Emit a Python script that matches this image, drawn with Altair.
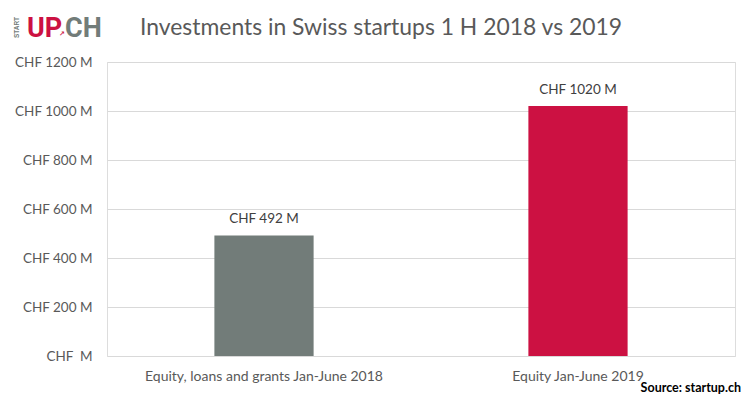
import altair as alt
import pandas as pd

categories = ["Equity, loans and grants Jan-June 2018", "Equity Jan-June 2019"]
values = [492, 1020]
labels = ["CHF 492 M", "CHF 1020 M"]
colors = ["#727C79", "#CC1142"]
y_ticks = [0, 200, 400, 600, 800, 1000, 1200]

df = pd.DataFrame({"cat": categories, "val": values, "lab": labels, "col": colors})

FONT = "Lato"
W, H = 628, 294

base = alt.Chart(df).encode(
    x=alt.X("cat:N", sort=categories,
            scale=alt.Scale(paddingInner=0.684, paddingOuter=0.342),
            axis=alt.Axis(title=None, labelAngle=0, labelFontSize=14, labelColor="#595959",
                          labelFont=FONT, labelPadding=13, domain=False, ticks=False, grid=False,
                          labelLimit=400)),
)

bars = base.mark_bar().encode(
    y=alt.Y("val:Q", scale=alt.Scale(domain=[0, 1200], nice=False),
            axis=alt.Axis(title=None, values=y_ticks, grid=True, gridColor="#D9D9D9",
                          domain=False, ticks=False, labelPadding=15,
                          labelFontSize=13.5, labelColor="#595959", labelFont=FONT,
                          labelExpr="datum.value == 0 ? 'CHF\u00a0 M' : 'CHF ' + datum.value + ' M'")),
    color=alt.Color("col:N", scale=None),
)

text = base.mark_text(baseline="bottom", dy=-9, fontSize=13.5, color="#404040", font=FONT).encode(
    y=alt.Y("val:Q"), text="lab:N")

deco = pd.DataFrame({"k": [0]})
title = alt.Chart(deco).mark_text(align="left", baseline="middle", fontSize=22.9,
                                   color="#595959", font=FONT).encode(
    x=alt.value(33), y=alt.value(-34), text=alt.value("Investments in Swiss startups 1 H 2018 vs 2019"))
start = alt.Chart(deco).mark_text(align="center", baseline="middle", fontSize=6.5, angle=270,
                                   color="#727C79", font="Liberation Sans",
                                   fontWeight="bold").encode(
    x=alt.value(-90), y=alt.value(-34.5), text=alt.value("START"))
up = alt.Chart(deco).mark_text(align="left", baseline="alphabetic", fontSize=27, fontWeight="bold",
                                color="#CC1142", font="Roboto").encode(
    x=alt.value(-80), y=alt.value(-25), text=alt.value("UP"))
ch = alt.Chart(deco).mark_text(align="left", baseline="alphabetic", fontSize=27, fontWeight="bold",
                                color="#727C79", font="Roboto").encode(
    x=alt.value(-42), y=alt.value(-25), text=alt.value("CH"))
arrow = alt.Chart(deco).mark_text(align="center", baseline="middle", fontSize=7, fontWeight="bold",
                                   color="#CC1142", font="DejaVu Sans").encode(
    x=alt.value(-45), y=alt.value(-28), text=alt.value("↗"))
source = alt.Chart(deco).mark_text(align="right", baseline="middle", fontSize=12.5, fontWeight="bold",
                                    color="#000000", font=FONT).encode(
    x=alt.value(W + 6), y=alt.value(H + 32), text=alt.value("Source: startup.ch"))

chart = alt.layer(bars, text, title, start, up, ch, arrow, source).properties(
    width=W, height=H,
    autosize=alt.AutoSizeParams(type="none"),
    padding={"left": 99, "top": 54, "right": 6, "bottom": 38},
).configure_view(stroke=None).configure(background="white")

chart.save("out.html", embed_options={"renderer": "svg", "actions": False})
